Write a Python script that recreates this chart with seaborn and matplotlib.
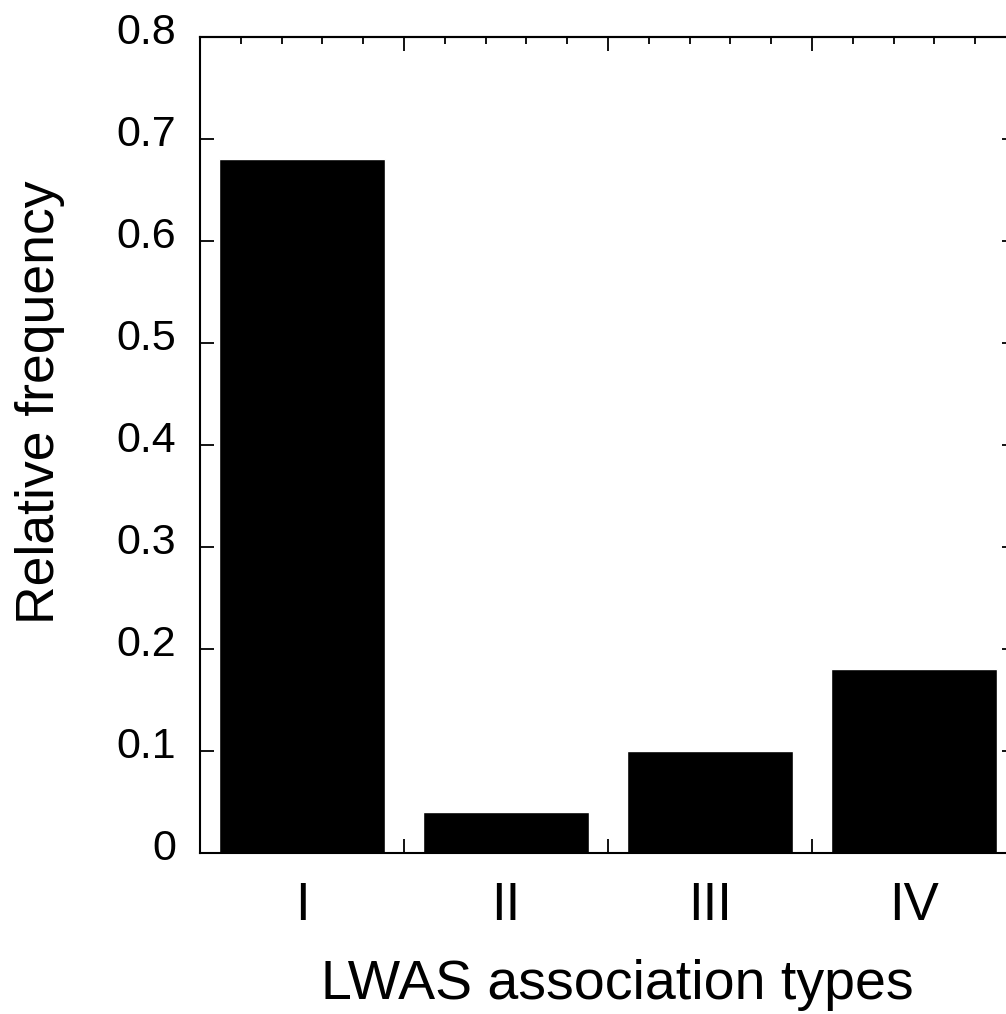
import numpy as np
import pandas as pd
import matplotlib
matplotlib.use("Agg")
import matplotlib.pyplot as plt
import seaborn as sns
from matplotlib.ticker import FixedLocator, MultipleLocator, NullFormatter
from matplotlib.transforms import ScaledTranslation

# data
types = ["I", "II", "III", "IV"]
freq = [0.68, 0.04, 0.10, 0.18]
yticks = [0, 0.1, 0.2, 0.3, 0.4, 0.5, 0.6, 0.7, 0.8]
ytick_labels = ["0", "0.1", "0.2", "0.3", "0.4", "0.5", "0.6", "0.7", "0.8"]

df = pd.DataFrame({"type": types, "freq": freq})

sns.set_style("ticks")
plt.rcParams["font.family"] = ["Liberation Sans", "DejaVu Sans"]
plt.rcParams.update({
    "axes.linewidth": 1.5,
    "axes.edgecolor": "black",
    "axes.labelcolor": "black",
    "text.color": "black",
    "xtick.color": "black",
    "ytick.color": "black",
})

fig = plt.figure(figsize=(10.06, 10.14), dpi=100)
# axes box is 816x816 px, right edge falls just outside the picture
ax = fig.add_axes([200 / 1006, 161 / 1014, 816 / 1006, 816 / 1014])

sns.barplot(data=df, x="type", y="freq", color="black", saturation=1,
            width=0.81, ax=ax)

ax.set_xlim(-0.5, 3.5)
ax.set_ylim(0, 0.8)

# bottom: labels at categories, ticks between bars
ax.set_xticks(range(len(types)))
ax.set_xticklabels(types)
ax.xaxis.set_minor_locator(FixedLocator([0.5, 1.5, 2.5]))
ax.tick_params(axis="x", which="major", length=0, labelsize=38, pad=20)
ax.tick_params(axis="x", which="minor", direction="in", length=10, width=1.3,
               top=False)

# y ticks on both sides, labels on the left
ax.set_yticks(yticks)
ax.set_yticklabels(ytick_labels)
ax.tick_params(axis="y", which="major", direction="in", length=10, width=1.3,
               left=True, right=True, labelsize=31, pad=17)
shift = ScaledTranslation(0, 9 / 100, fig.dpi_scale_trans)
for lab in ax.get_yticklabels():
    lab.set_transform(lab.get_transform() + shift)

# top axis: major ticks between bars, minor every 0.2
top = ax.secondary_xaxis("top")
top.xaxis.set_major_locator(FixedLocator([0.5, 1.5, 2.5]))
top.xaxis.set_minor_locator(MultipleLocator(0.2, offset=-0.5))
top.xaxis.set_major_formatter(NullFormatter())
top.xaxis.set_minor_formatter(NullFormatter())
top.tick_params(which="major", direction="in", length=10, width=1.3)
top.tick_params(which="minor", direction="in", length=5, width=1.3)
top.spines["top"].set_linewidth(1.5)

for s in ax.spines.values():
    s.set_visible(True)
    s.set_linewidth(1.5)

ax.set_xlabel("LWAS association types", fontsize=40)
ax.set_ylabel("Relative frequency", fontsize=38.5)
ax.xaxis.set_label_coords(0.511, -0.13)
ax.yaxis.set_label_coords(-0.165, 0.553)

fig.savefig("out.png", dpi=100)
